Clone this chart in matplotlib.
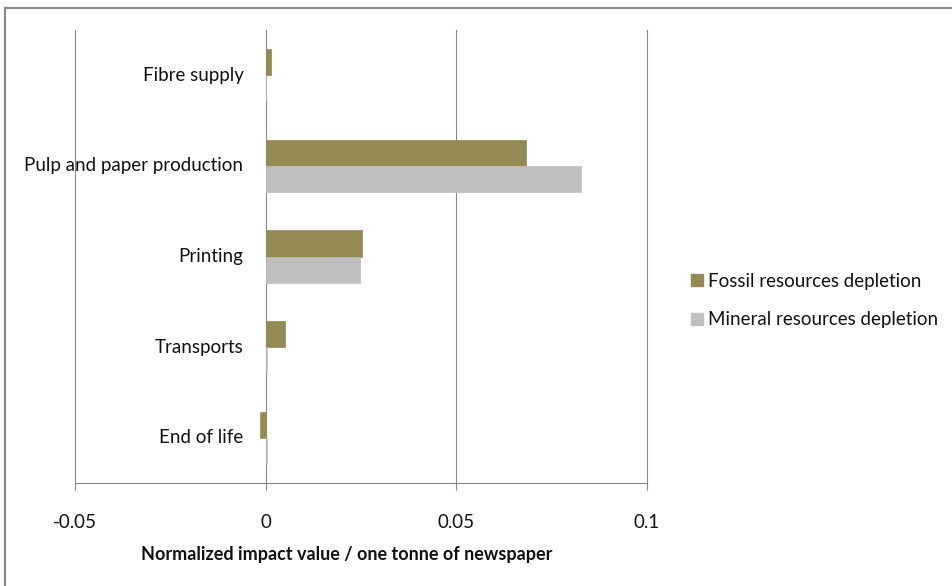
import numpy as np
import matplotlib
matplotlib.use("Agg")
import matplotlib.pyplot as plt
from matplotlib.lines import Line2D

categories = ["Fibre supply", "Pulp and paper production", "Printing", "Transports", "End of life"]
fossil = [0.0013, 0.0684, 0.0252, 0.0051, -0.0014]
mineral = [0.0002, 0.0827, 0.0247, 0.0004, 0.0004]
series_names = ["Fossil resources depletion", "Mineral resources depletion"]
xticks = [-0.05, 0, 0.05, 0.1]
xtick_labels = ["-0.05", "0", "0.05", "0.1"]

plt.rcParams['font.family'] = ['Lato', 'DejaVu Sans']

fig = plt.figure(figsize=(9.53, 5.86), dpi=100)
ax = fig.add_axes([75/953, 1-483/586, (647-75)/953, (483-30)/586])

col_f = "#948A54"
col_m = "#BFBFBF"
grid_c = "#878787"

y = np.arange(len(categories))
h = 0.287
ax.barh(y - h/2, fossil, height=h, color=col_f, edgecolor=col_f, linewidth=0.5, zorder=3)
ax.barh(y + h/2, mineral, height=h, color=col_m, edgecolor=col_m, linewidth=0.5, zorder=3)

ax.set_xlim(-0.05, 0.1)
ax.set_ylim(len(categories) - 0.5, -0.5)
for v in xticks:
    ax.axvline(v, color=grid_c, lw=0.8, zorder=1, clip_on=False)

for s in ["top", "right", "left"]:
    ax.spines[s].set_visible(False)
ax.spines["bottom"].set_color(grid_c)
ax.spines["bottom"].set_linewidth(0.8)

ax.set_xticks(xticks)
ax.set_xticklabels(xtick_labels, fontsize=13.5, color="#111111")
ax.tick_params(axis="x", length=5, color=grid_c, pad=17)
ax.set_yticks([])

# category labels sit next to the zero axis
for yi, lab in zip(y, categories):
    ax.annotate(lab, xy=(0, yi), xytext=(-16, 0), textcoords="offset points",
                ha="right", va="center", fontsize=13.5, color="#111111")

ax.set_xlabel("Normalized impact value / one tonne of newspaper",
              fontsize=13, fontweight="bold", color="#111111")
ax.xaxis.set_label_coords(0.475, -0.14)

handles = [Line2D([], [], marker="s", ls="none", color=col_f, markersize=9),
           Line2D([], [], marker="s", ls="none", color=col_m, markersize=9)]
fig.legend(handles, series_names, loc="center left", bbox_to_anchor=(0.705, 0.487),
           frameon=False, fontsize=13.5, handletextpad=0.15, labelspacing=1.15,
           handlelength=0.9, labelcolor="#111111")

# chart border (left and top only visible in crop)
fig.add_artist(Line2D([4.5/953, 4.5/953], [0, 1-7.5/586], color="#888888", lw=1.5))
fig.add_artist(Line2D([4.5/953, 1], [1-7.5/586, 1-7.5/586], color="#888888", lw=1.5))

fig.savefig("out.png", dpi=100)
